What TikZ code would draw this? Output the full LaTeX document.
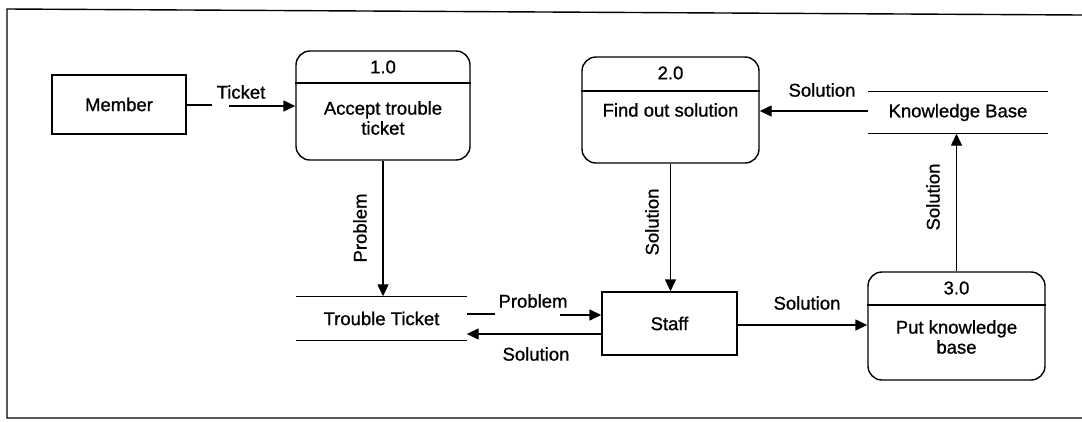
\documentclass[tikz,border=0pt]{standalone}
\usepackage{fontspec}
\setmainfont{Liberation Sans}[BoldFont=Liberation Sans,BoldFeatures={FakeBold=0.9}]
\usetikzlibrary{arrows.meta}
\begin{document}
\begin{tikzpicture}[x=1pt,y=-1pt,line width=1.4pt,
  every node/.style={font=\fontsize{18.5}{20}\selectfont\bfseries},
  flow/.style={-{Triangle[length=12pt,width=11pt]}},
  entity/.style={draw,minimum width=#1,inner sep=0pt},
  proc/.style={draw,rounded corners=14pt,inner sep=0pt},
  store/.style={inner sep=0pt},
  lbl/.style={inner sep=1pt},
  vlbl/.style={inner sep=1pt,rotate=90}]
\useasboundingbox (0,0) rectangle (1082,421);

% page frame
\draw (1082,15) -- (7,9) -- (7,418) -- (1082,418);

% external entities
\node[entity=134pt,minimum height=59pt] (member) at (119,104.5) {Member};
\node[entity=135pt,minimum height=63pt] (staff) at (669.5,323.5) {Staff};

% processes
\node[proc,minimum width=174pt,minimum height=109pt] (p1) at (383,105.5) {};
\draw (p1.west |- 0,83) -- (p1.east |- 0,83);
\node (p1n) at (383,67) {1.0};
\node[align=center] (p1t) at (383,118) {Accept trouble\\ticket};

\node[proc,minimum width=177pt,minimum height=106pt] (p2) at (670.5,110) {};
\draw (p2.west |- 0,91) -- (p2.east |- 0,91);
\node (p2n) at (670.5,73) {2.0};
\node (p2t) at (670.5,110) {Find out solution};

\node[proc,minimum width=177pt,minimum height=108pt] (p3) at (956.5,326) {};
\draw (p3.west |- 0,305) -- (p3.east |- 0,305);
\node (p3n) at (956.5,288) {3.0};
\node[align=center] (p3t) at (956.5,337) {Put knowledge\\base};

% data stores
\node[store,minimum width=169pt,minimum height=43pt] (tt) at (381.5,318.5) {Trouble Ticket};
\draw (tt.north west) -- (tt.north east) (tt.south west) -- (tt.south east);
\node[store,minimum width=178pt,minimum height=41pt] (kb) at (958,112.5) {Knowledge Base};
\draw (kb.north west) -- (kb.north east) (kb.south west) -- (kb.south east);

% data flows
\coordinate (tkA) at (212,105);
\coordinate (tkB) at (229,106);
\draw (member.east |- tkA) -- (tkA);
\draw[flow] (tkB) -- (p1.west |- tkB);
\node[lbl] (l1) at (241,92) {Ticket};

\draw[flow] (p1.south) -- (p1.south |- tt.north);
\node[vlbl] (l2) at (360,228) {Problem};

\coordinate (prA) at (495,314);
\coordinate (prB) at (560,315);
\draw (tt.east |- prA) -- (prA);
\draw[flow] (prB) -- (staff.west |- prB);
\node[lbl] (l3) at (533,301) {Problem};

\coordinate (soA) at (540,334);
\draw[flow] (staff.west |- soA) -- (tt.east |- soA);
\node[lbl] (l4) at (536,354) {Solution};

\draw[flow] (p2.south) -- (p2.south |- staff.north);
\node[vlbl] (l5) at (652,222) {Solution};

\coordinate (soB) at (820,111);
\draw[flow] (kb.west |- soB) -- (p2.east |- soB);
\node[lbl] (l6) at (822,90) {Solution};

\coordinate (soC) at (800,325);
\draw[flow] (staff.east |- soC) -- (p3.west |- soC);
\node[lbl] (l7) at (807,303) {Solution};

\draw[flow] (p3.north) -- (p3.north |- kb.south);
\node[vlbl] (l8) at (933,197) {Solution};
\end{tikzpicture}
\end{document}
